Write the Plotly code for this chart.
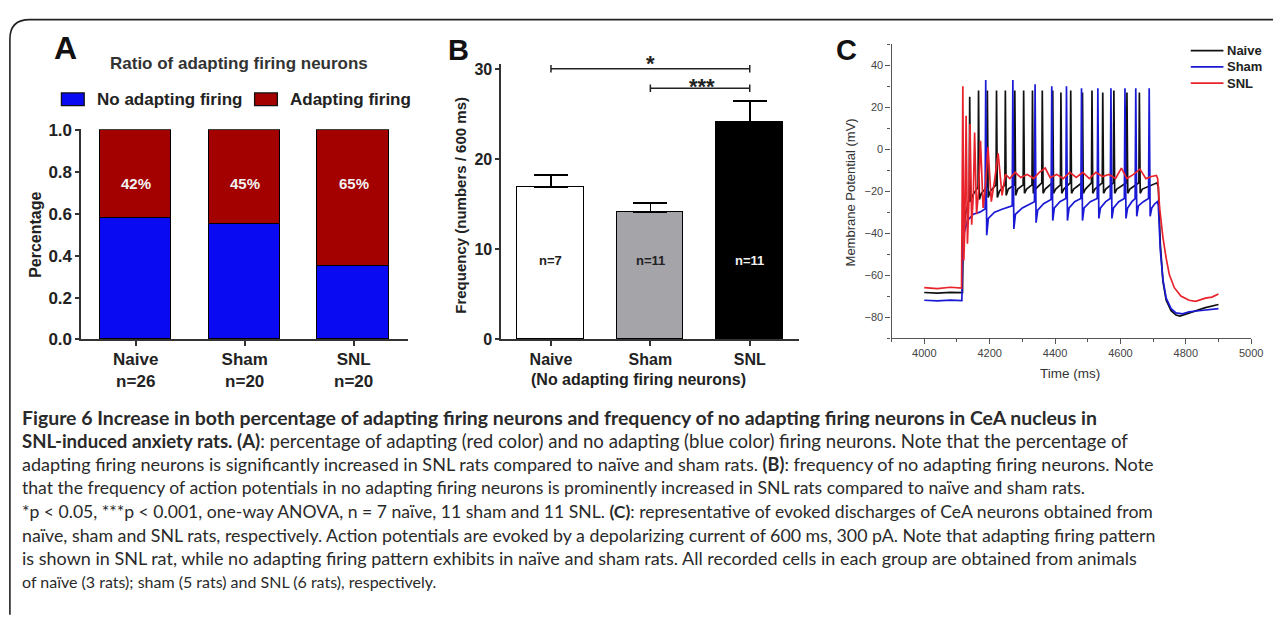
import plotly.graph_objects as go

W, H = 1282, 620

# ---------------- Panel A data ----------------
groups_a = ["Naive", "Sham", "SNL"]
n_a = ["n=26", "n=20", "n=20"]
no_adapting = [0.58, 0.55, 0.35]
adapting = [0.42, 0.45, 0.65]
adapting_pct = ["42%", "45%", "65%"]
ticks_a = [0.0, 0.2, 0.4, 0.6, 0.8, 1.0]

# ---------------- Panel B data ----------------
groups_b = ["Naive", "Sham", "SNL"]
freq_mean = [16.9, 14.1, 24.2]
freq_sem = [1.4, 1.05, 2.3]
n_b = ["n=7", "n=11", "n=11"]
ticks_b = [0, 10, 20, 30]

# ---------------- Panel C data (time ms, membrane potential mV) ----------------
naive_t = [4000, 4040, 4080, 4117, 4119, 4126, 4134,
           4137.5, 4139, 4141.5, 4148,
           4164.5, 4166, 4168.5, 4175,
           4191.5, 4193, 4195.5, 4202,
           4219.5, 4221, 4223.5, 4230,
           4246.5, 4248, 4250.5, 4257,
           4275.5, 4277, 4279.5, 4286,
           4302.5, 4304, 4306.5, 4313,
           4329.5, 4331, 4333.5, 4340,
           4359.5, 4361, 4363.5, 4370,
           4391.5, 4393, 4395.5, 4402,
           4416.5, 4418, 4420.5, 4427,
           4446.5, 4448, 4450.5, 4457,
           4482.5, 4484, 4486.5, 4493,
           4511.5, 4513, 4515.5, 4522,
           4544.5, 4546, 4548.5, 4555,
           4578.5, 4580, 4582.5, 4589,
           4618.5, 4620, 4622.5, 4629,
           4656.5, 4658, 4660.5, 4667,
           4712, 4716, 4722, 4730, 4740, 4755, 4770, 4782, 4800, 4830, 4860, 4900]
naive_v = [-68.3, -68.6, -68.2, -68.4, -42, -31, -26,
           -24, 25, -25, -22,
           -18, 28, -24, -21,
           -18, 28, -23, -20,
           -17, 28, -23, -20,
           -17, 28, -22, -19,
           -17, 28, -22, -19,
           -17, 28, -21, -19,
           -17, 28, -21, -19,
           -16, 28, -21, -19,
           -16, 28, -21, -19,
           -17, 27, -21, -19,
           -16, 28, -21, -19,
           -16, 27, -21, -19,
           -16, 28, -21, -19,
           -16, 27, -21, -19,
           -16, 28, -21, -19,
           -16, 27, -21, -19,
           -16, 27, -21, -19,
           -16, -18, -45, -63, -72, -77, -79, -79.5, -78.5, -77, -75.5, -74]

sham_t = [4000, 4040, 4080, 4115, 4117, 4122, 4132, 4150, 4170, 4186,
          4188, 4191, 4196, 4215, 4240, 4269,
          4271, 4274, 4279, 4300, 4337,
          4339, 4342, 4347, 4365, 4388,
          4390, 4393, 4398, 4415, 4433,
          4435, 4438, 4443, 4460, 4479,
          4481, 4484, 4489, 4508, 4529,
          4531, 4534, 4539, 4555, 4569,
          4571, 4574, 4579, 4595, 4612,
          4614, 4617, 4622, 4635, 4645,
          4647, 4650, 4655, 4670, 4686,
          4688, 4691, 4696, 4705, 4713,
          4716, 4722, 4730, 4740, 4755, 4770, 4790, 4810, 4840, 4870, 4900]
sham_v = [-72, -72.3, -71.9, -72.2, -50, -40, -34, -31, -30, -28.5,
          33, -41, -33, -30, -28.5, -27,
          33, -38, -31, -28, -25,
          31, -35, -29, -26, -24,
          30, -34, -28, -25, -23.5,
          30, -34, -28, -25, -23.5,
          29, -34, -28, -25, -23.5,
          29, -33, -28, -25, -23.5,
          29, -33, -28, -25, -23.5,
          29, -33, -28, -25, -23.5,
          29, -32, -27, -25, -23.5,
          29, -32, -28, -26, -25,
          -27, -48, -62, -71, -76, -78, -78.5, -77.5, -77, -76.5, -76]

snl_t = [4000, 4040, 4080, 4114, 4116, 4118, 4121, 4124, 4128, 4132, 4136, 4140,
         4145, 4150, 4154, 4160, 4166, 4172, 4180, 4187, 4195, 4205, 4214, 4226,
         4238, 4248, 4262, 4278, 4295, 4315, 4335, 4352, 4370, 4385, 4405, 4425,
         4445, 4465, 4485, 4505, 4525, 4545, 4565, 4585, 4603, 4620, 4640, 4660,
         4678, 4695, 4710, 4714, 4720, 4730, 4740, 4750, 4765, 4785, 4810, 4830,
         4860, 4880, 4900]
snl_v = [-66, -66.4, -65.8, -66.2, -20, 30, -53, -38, 16, -45, -28, 12,
         -36, -22, 8, -31, -20, 4, -28, -18, 1, -25, -16, -2,
         -22, -12, -14, -11, -13.5, -12, -14, -11, -9, -13.5, -12, -14,
         -11, -13.5, -11, -14, -11, -13, -12, -14, -9, -14, -12, -9.5,
         -14, -13, -12.5, -14, -28, -42, -52, -60, -66, -70, -72, -72.5,
         -71, -70.5, -69]

trace_names = ["Naive", "Sham", "SNL"]
trace_colors = ["#111111", "#1a1ad6", "#e8232b"]

# ---------------- Caption ----------------
caption_lines = [
    "<b>Figure 6 Increase in both percentage of adapting firing neurons and frequency of no adapting firing neurons in CeA nucleus in</b>",
    "<b>SNL-induced anxiety rats. (A)</b>: percentage of adapting (red color) and no adapting (blue color) firing neurons. Note that the percentage of",
    "adapting firing neurons is significantly increased in SNL rats compared to naïve and sham rats. <b>(B)</b>: frequency of no adapting firing neurons. Note",
    "that the frequency of action potentials in no adapting firing neurons is prominently increased in SNL rats compared to naïve and sham rats.",
    "*p < 0.05, ***p < 0.001, one-way ANOVA, n = 7 naïve, 11 sham and 11 SNL. <b>(C)</b>: representative of evoked discharges of CeA neurons obtained from",
    "naïve, sham and SNL rats, respectively. Action potentials are evoked by a depolarizing current of 600 ms, 300 pA. Note that adapting firing pattern",
    "is shown in SNL rat, while no adapting firing pattern exhibits in naïve and sham rats. All recorded cells in each group are obtained from animals",
    "of naïve (3 rats); sham (5 rats) and SNL (6 rats), respectively.",
]
caption_sizes = [19.45, 18.6, 18.05, 17.6, 17.6, 17.8, 18.0, 16.0]


def px(x):
    return x / W


def py(y):
    return 1 - y / H


fig = go.Figure()

# Panel A bars
fig.add_trace(go.Bar(x=[0, 1, 2], y=no_adapting, width=0.66, name="No adapting firing",
                     marker=dict(color="#0a0af2", line=dict(color="black", width=1.5)),
                     xaxis="x", yaxis="y", showlegend=False))
fig.add_trace(go.Bar(x=[0, 1, 2], y=adapting, width=0.66, name="Adapting firing",
                     marker=dict(color="#a30000", line=dict(color="black", width=1.5)),
                     xaxis="x", yaxis="y", showlegend=False))

# Panel B bars
fig.add_trace(go.Bar(x=[0, 1, 2], y=freq_mean, width=0.67,
                     marker=dict(color=["white", "#a4a4a9", "black"], line=dict(color="black", width=1.5)),
                     error_y=dict(type="data", array=freq_sem, arrayminus=[0, 0, 0], symmetric=False,
                                  color="black", thickness=1.6, width=17),
                     xaxis="x2", yaxis="y2", showlegend=False))

# Significance brackets in B
fig.add_trace(go.Scatter(x=[0, 0, 0, 2, 2, 2], y=[30.5, 29.66, 30.08, 30.08, 30.5, 29.66],
                         mode="lines", line=dict(color="#222", width=1.5),
                         xaxis="x2", yaxis="y2", showlegend=False, hoverinfo="skip"))
fig.add_trace(go.Scatter(x=[1, 1, 1, 2, 2, 2], y=[28.32, 27.48, 27.9, 27.9, 28.32, 27.48],
                         mode="lines", line=dict(color="#222", width=1.5),
                         xaxis="x2", yaxis="y2", showlegend=False, hoverinfo="skip"))

# Panel C traces
for t, v, nm, col in zip([naive_t, sham_t, snl_t], [naive_v, sham_v, snl_v], trace_names, trace_colors):
    fig.add_trace(go.Scatter(x=t, y=v, mode="lines", name=nm, line=dict(color=col, width=1.7),
                             xaxis="x3", yaxis="y3", showlegend=False))

bold17 = dict(family="Arial", size=17, color="#222", weight="bold")
bold16 = dict(family="Arial", size=16, color="#222", weight="bold")

fig.update_layout(
    width=W, height=H, margin=dict(l=0, r=0, t=0, b=0), autosize=False,
    paper_bgcolor="white", plot_bgcolor="white", barmode="stack", bargap=0,
    xaxis=dict(domain=[px(82), px(412)], range=[-0.5, 2.5], anchor="y",
               tickvals=[0, 1, 2], ticktext=[f"{g}<br>{n}" for g, n in zip(groups_a, n_a)],
               showline=True, linecolor="#333", linewidth=1.6, ticks="outside", ticklen=5,
               tickcolor="#333", tickwidth=1.5, tickfont=bold17, showgrid=False, zeroline=False,
               ticklabelstandoff=-2),
    yaxis=dict(domain=[py(341.3), py(124.9)], range=[0, 1.005], anchor="x",
               tickvals=ticks_a, tickformat=".1f", showline=True, linecolor="#333", linewidth=1.6,
               ticks="outside", ticklen=4, tickcolor="#333", tickwidth=1.5, tickfont=bold17,
               showgrid=False, zeroline=False),
    xaxis2=dict(domain=[px(506), px(807)], range=[-0.5, 2.5], anchor="y2",
                tickvals=[0, 1, 2], ticktext=groups_b,
                showline=True, linecolor="#333", linewidth=1.6, ticks="outside", ticklen=5,
                tickcolor="#333", tickwidth=1.5, tickfont=bold16, showgrid=False, zeroline=False),
    yaxis2=dict(domain=[py(341.3), py(341.3 - 9.267 * 30.6)], range=[0, 30.6], anchor="x2",
                tickvals=ticks_b, showline=True, linecolor="#333", linewidth=1.6,
                ticks="outside", ticklen=4, tickcolor="#333", tickwidth=1.5, tickfont=bold16,
                showgrid=False, zeroline=False),
    xaxis3=dict(domain=[px(900), px(1263)], range=[3900, 5000], anchor="y3",
                tick0=4000, dtick=200, showline=True, linecolor="#555", linewidth=1.3,
                ticks="outside", ticklen=5, tickcolor="#555", tickwidth=1.2,
                minor=dict(ticks="outside", ticklen=3, dtick=100, tick0=4000, tickcolor="#555"),
                tickfont=dict(family="Arial", size=11, color="#444"), showgrid=False, zeroline=False),
    yaxis3=dict(domain=[py(339.9), py(37.4)], range=[-90, 50], anchor="x3",
                tick0=0, dtick=20, showline=True, linecolor="#555", linewidth=1.3,
                ticks="outside", ticklen=5, tickcolor="#555", tickwidth=1.2,
                minor=dict(ticks="outside", ticklen=3, dtick=10, tick0=0, tickcolor="#555"),
                tickfont=dict(family="Arial", size=11, color="#444"), showgrid=False, zeroline=False),
)

ann = []
shapes = []


def note(text, x, y, size, color="#222", xa="center", ya="middle", angle=0, family="Arial"):
    ann.append(dict(text=text, x=px(x), y=py(y), xref="paper", yref="paper", showarrow=False,
                    xanchor=xa, yanchor=ya, textangle=angle, align="left",
                    font=dict(family=family, size=size, color=color)))


# Border with rounded top-left corner
shapes.append(dict(type="path", xref="paper", yref="paper",
                   path=f"M {px(10)},{py(625)} L {px(10)},{py(32)} Q {px(10)},{py(12)} {px(30)},{py(12)} L {px(1285)},{py(12)}",
                   line=dict(color="#222", width=1.6)))

# Panel letters
note("<b>A</b>", 66, 41, 32, "#111")
note("<b>B</b>", 463, 43, 29, "#111")
note("<b>C</b>", 855, 43, 29, "#111")

# Panel A title and legend
note("<b>Ratio of adapting firing neurons</b>", 241, 57, 17, "#333")
for (x0, x1, col, label, tx) in [(62, 85, "#0a0af2", "No adapting firing", 96),
                                  (257, 280, "#a30000", "Adapting firing", 291)]:
    shapes.append(dict(type="rect", xref="paper", yref="paper", x0=px(x0), x1=px(x1), y0=py(100.5), y1=py(87.5),
                       fillcolor=col, line=dict(color="#111", width=1.3)))
    note(f"<b>{label}</b>", tx, 94, 17, "#222", xa="left")

# Percent labels in A
for i, lab in enumerate(adapting_pct):
    ann.append(dict(text=f"<b>{lab}</b>", x=i, y=0.745, xref="x", yref="y", showarrow=False,
                    xanchor="center", yanchor="middle",
                    font=dict(family="Arial", size=15, color="#f2f2f2")))

# A y title
note("<b>Percentage</b>", 36, 234, 16, angle=-90)

# B labels
for i, (lab, col) in enumerate(zip(n_b, ["#222", "#222", "#f0f0f0"])):
    ann.append(dict(text=f"<b>{lab}</b>", x=i, y=8.8, xref="x2", yref="y2", showarrow=False,
                    xanchor="center", yanchor="middle",
                    font=dict(family="Arial", size=13, color=col)))
note("<b>(No adapting firing neurons)</b>", 645, 383, 16)
note("<b>Frequency (numbers / 600 ms)</b>", 464, 203, 15, angle=-90)
note("<b>*</b>", 657, 57, 22)
note("<b>***</b>", 709, 80.5, 22)

# C titles
note("Membrane Potential (mV)", 859, 190, 13, "#333", angle=-90)
note("Time (ms)", 1080, 376, 13.5, "#333")

# C legend
for nm, col, yy in zip(trace_names, trace_colors, [44, 60.7, 77.3]):
    shapes.append(dict(type="line", xref="paper", yref="paper", x0=px(1202), x1=px(1235), y0=py(yy), y1=py(yy),
                       line=dict(color=col, width=1.8)))
    note(f"<b>{nm}</b>", 1237, yy, 13, "#222", xa="left")

# Caption
for k, (line, sz) in enumerate(zip(caption_lines, caption_sizes)):
    note(line, 20, 421.7 + 24.2 * k, sz, "#2a2a2a", xa="left", family="Lato")

fig.update_layout(annotations=ann, shapes=shapes)
fig.write_html("out.html", config={"displayModeBar": False},
               post_script="document.body.style.margin='0px';")
